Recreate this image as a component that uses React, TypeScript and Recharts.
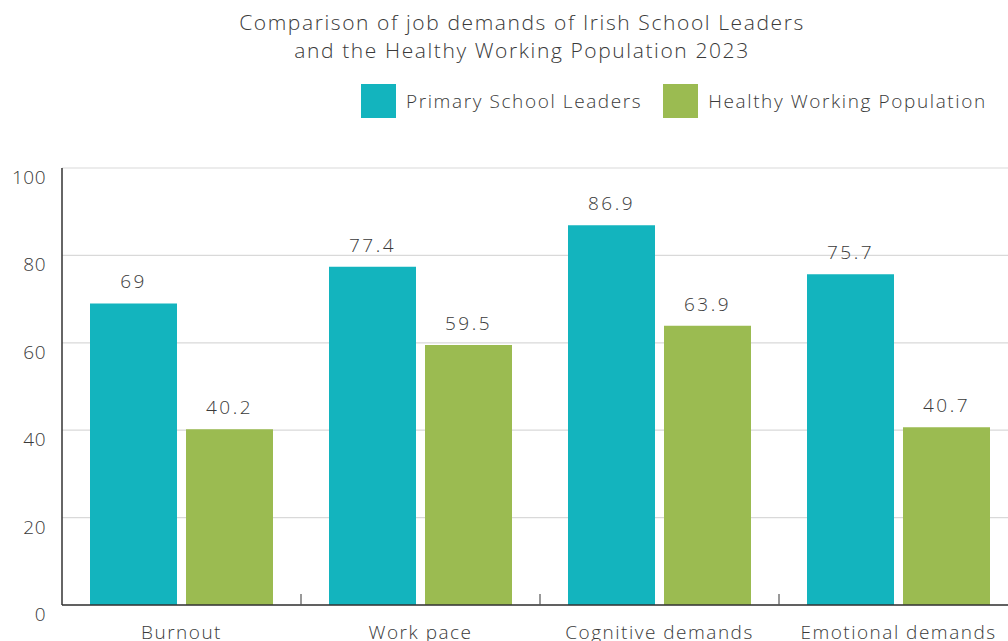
import React from 'react';
import { BarChart, Bar, XAxis, YAxis, CartesianGrid, LabelList, Legend } from 'recharts';

const categories = ['Burnout', 'Work pace', 'Cognitive demands', 'Emotional demands'];
const primaryLeaders = [69, 77.4, 86.9, 75.7];
const healthyPopulation = [40.2, 59.5, 63.9, 40.7];
const yTicks = [0, 20, 40, 60, 80, 100];
const seriesNames = ['Primary School Leaders', 'Healthy Working Population'];
const titleLines = ['Comparison of job demands of Irish School Leaders', 'and the Healthy Working Population 2023'];

const TEAL = '#13B4BE';
const GREEN = '#9BBB51';
const FONT = '"Open Sans", Lato, sans-serif';
const TEXT = '#3a3a3a';

const data = categories.map((c, i) => ({
  category: c,
  primary: primaryLeaders[i],
  healthy: healthyPopulation[i],
}));

const YTick = (props: any) => {
  const { x, y, payload } = props;
  return (
    <text x={x} y={y} dy={9} textAnchor="end" dominantBaseline="central" fill={TEXT}
      fontFamily={FONT} fontSize={19} fontWeight={300} letterSpacing={0.5}>
      {payload.value}
    </text>
  );
};

const XTick = (props: any) => {
  const { x, y, payload } = props;
  const axisY = y - 8;
  const edge = x + (payload.offset || 0);
  return (
    <g>
      <line x1={edge} x2={edge} y1={axisY} y2={axisY - 11} stroke="#555" strokeWidth={1.2} />
      <text x={x} y={y} dy={26} textAnchor="middle" fill={TEXT}
        fontFamily={FONT} fontSize={19} fontWeight={300} letterSpacing={1.5}>
        {payload.value}
      </text>
    </g>
  );
};

const LegendContent = () => (
  <div style={{ display: 'flex', alignItems: 'center', fontFamily: FONT, fontSize: 19, fontWeight: 300, color: TEXT, letterSpacing: 1.6, whiteSpace: 'nowrap' }}>
    {[TEAL, GREEN].map((c, i) => (
      <div key={i} style={{ display: 'flex', alignItems: 'center', marginRight: i === 0 ? 21 : 0 }}>
        <div style={{ width: 35, height: 34, background: c, marginRight: 10 }} />
        <span>{seriesNames[i]}</span>
      </div>
    ))}
  </div>
);

export default function App() {
  return (
    <div style={{ position: 'fixed', left: 0, top: 0, width: 1008, height: 641, overflow: 'hidden', background: '#fff' }}>
      <div style={{ position: 'absolute', left: 0, top: 8, width: 1044, textAlign: 'center', fontFamily: FONT, fontSize: 21, fontWeight: 300, color: TEXT, lineHeight: '28px', letterSpacing: 1.6, zIndex: 2 }}>
        {titleLines.map((t, i) => (<div key={i}>{t}</div>))}
      </div>
      <BarChart width={1030} height={660} data={data}
        margin={{ top: 168, right: 12, left: 0, bottom: 15 }}
        barSize={87} barGap={9}>
        <CartesianGrid vertical={false} stroke="#d9d9d9" strokeWidth={1.2} />
        <XAxis dataKey="category" height={40} tickLine={false}
          axisLine={{ stroke: '#333', strokeWidth: 1.5 }} tick={<XTick />} interval={0} />
        <YAxis width={62} domain={[0, 100]} ticks={yTicks} tickLine={false} tickMargin={10}
          axisLine={{ stroke: '#333', strokeWidth: 1.5 }} tick={<YTick />} />
        <Legend layout="vertical" align="center" verticalAlign="middle"
          wrapperStyle={{ top: 84, left: 361, width: 660 }} content={<LegendContent />} />
        <Bar dataKey="primary" name={seriesNames[0]} fill={TEAL} isAnimationActive={false}>
          <LabelList dataKey="primary" position="top" offset={15} fill={TEXT} fontFamily={FONT} fontSize={19} fontWeight={300} letterSpacing={2.5} />
        </Bar>
        <Bar dataKey="healthy" name={seriesNames[1]} fill={GREEN} isAnimationActive={false}>
          <LabelList dataKey="healthy" position="top" offset={15} fill={TEXT} fontFamily={FONT} fontSize={19} fontWeight={300} letterSpacing={2.5} />
        </Bar>
      </BarChart>
    </div>
  );
}
